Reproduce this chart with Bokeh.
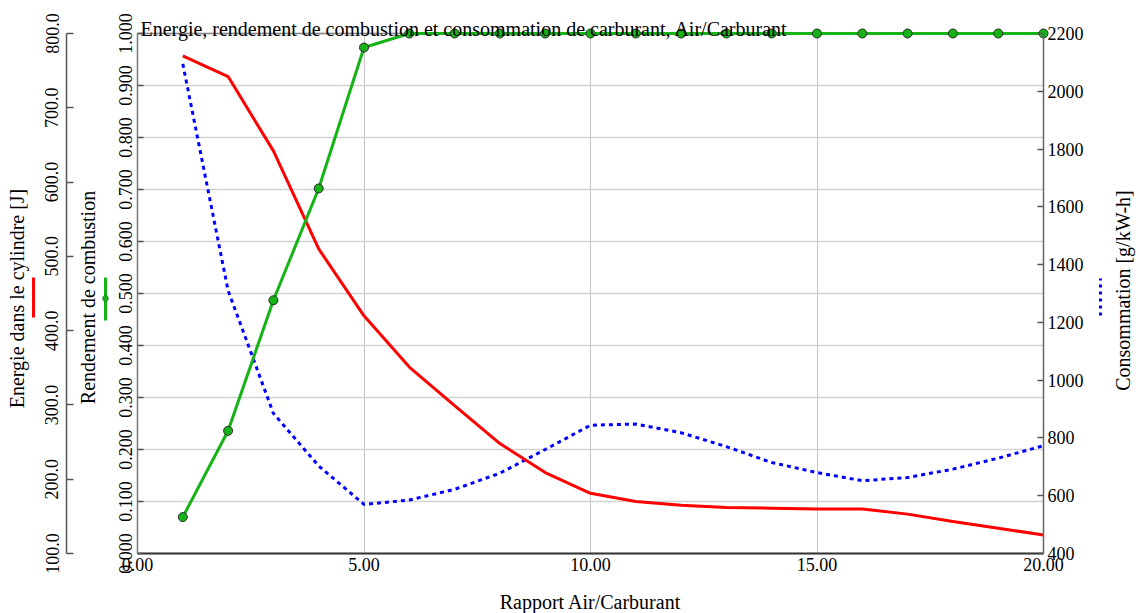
from math import pi

from bokeh.plotting import figure
from bokeh.models import (Range1d, LinearAxis, FixedTicker, NumeralTickFormatter,
                          Label, Arrow, BoxAnnotation, Grid)
from bokeh.embed import file_html
from bokeh.resources import INLINE

# ---- data -------------------------------------------------------------
ratio = [1, 2, 3, 4, 5, 6, 7, 8, 9, 10, 11, 12, 13, 14, 15, 16, 17, 18, 19, 20]
energie = [770, 742, 642, 510, 420, 351, 299, 248, 209, 181,
           170, 165, 162, 161, 160, 160, 153, 143, 134, 125]
rendement = [0.070, 0.236, 0.487, 0.702, 0.973, 1.000, 1.000, 1.000, 1.000, 1.000,
             1.000, 1.000, 1.000, 1.000, 1.000, 1.000, 1.000, 1.000, 1.000, 1.000]
consommation = [2095, 1310, 885, 703, 570, 585, 622, 678, 760, 844,
                848, 818, 770, 715, 680, 652, 663, 692, 730, 773]

x_ticks = [0, 5, 10, 15, 20]
rendement_ticks = [0.0, 0.1, 0.2, 0.3, 0.4, 0.5, 0.6, 0.7, 0.8, 0.9, 1.0]
energie_ticks = [100, 200, 300, 400, 500, 600, 700, 800]
conso_ticks = [400, 600, 800, 1000, 1200, 1400, 1600, 1800, 2000, 2200]

x_lim = (0, 20)
rendement_lim = (0.0, 1.0)
energie_lim = (100, 800)
conso_lim = (400, 2200)

TITLE = "Energie, rendement de combustion et consommation de carburant, Air/Carburant"
X_TITLE = "Rapport Air/Carburant"
E_TITLE = "Energie dans le cylindre [J]"
R_TITLE = "Rendement de combustion"
C_TITLE = "Consommation [g/kW-h]"

# ---- style ------------------------------------------------------------
FONT = "Liberation Serif"
TICK_SIZE = "18px"
LABEL_SIZE = "20px"
RED = "#ff0000"
GREEN = "#16b316"
BLUE = "#0000ff"

# ---- geometry ---------------------------------------------------------
# The frame fills the whole canvas; the axes sit at fixed locations so
# that the titles and the small legend keys beside them stay inside it.
W, H = 1140, 613
PA_LEFT, PA_RIGHT, PA_TOP, PA_BOTTOM = 137, 1043, 33, 553   # plot area, canvas px
ENERGY_AXIS_X = 66


def canvas_range(lo, hi, px_lo, px_hi, size):
    """Data range covering pixels 0..size when lo sits at px_lo and hi at px_hi."""
    k = (hi - lo) / (px_hi - px_lo)
    return Range1d(lo - px_lo * k, lo + (size - px_lo) * k)


def up(y_px):
    """Canvas row -> screen units measured up from the bottom."""
    return H - y_px


x_range = canvas_range(*x_lim, PA_LEFT, PA_RIGHT, W)
y_range = canvas_range(*rendement_lim, up(PA_BOTTOM), up(PA_TOP), H)
e_range = canvas_range(*energie_lim, up(PA_BOTTOM), up(PA_TOP), H)
c_range = canvas_range(*conso_lim, up(PA_BOTTOM), up(PA_TOP), H)
x_per_px = (x_lim[1] - x_lim[0]) / (PA_RIGHT - PA_LEFT)

p = figure(width=W, height=H, title=None, x_range=x_range, y_range=y_range,
           output_backend="svg", toolbar_location=None,
           min_border=0, min_border_left=0, min_border_right=0,
           min_border_top=0, min_border_bottom=0,
           background_fill_color="white", border_fill_color="white")
p.outline_line_color = None
p.extra_y_ranges = {"energie": e_range, "conso": c_range}


def style_axis(ax):
    ax.major_label_text_font = FONT
    ax.major_label_text_font_size = TICK_SIZE
    ax.major_label_text_color = "black"
    ax.axis_label_text_font = FONT
    ax.axis_label_text_font_size = LABEL_SIZE
    ax.axis_label_text_font_style = "normal"
    ax.axis_label_text_color = "black"
    ax.minor_tick_line_color = None
    ax.major_tick_line_color = "#555555"
    ax.major_tick_line_width = 1.5


# x axis
xa = p.xaxis[0]
xa.fixed_location = rendement_lim[0]
xa.bounds = x_lim
xa.ticker = FixedTicker(ticks=x_ticks)
xa.formatter = NumeralTickFormatter(format="0.00")
xa.major_tick_in = 0
xa.major_tick_out = 0
xa.major_label_standoff = 4
xa.axis_label = X_TITLE
xa.axis_label_standoff = 17
style_axis(xa)
xa.axis_line_color = "#333333"
xa.axis_line_width = 2

# efficiency axis along the left edge of the plot area
ya = p.yaxis[0]
ya.fixed_location = x_lim[0]
ya.bounds = rendement_lim
ya.ticker = FixedTicker(ticks=rendement_ticks)
ya.formatter = NumeralTickFormatter(format="0.000")
ya.major_label_orientation = "vertical"
ya.major_tick_in = 6
ya.major_tick_out = 0
ya.major_label_standoff = 6
style_axis(ya)
ya.axis_line_color = "#777777"
ya.axis_line_width = 1.5

# energy axis further out on the left
ea = LinearAxis(y_range_name="energie", ticker=FixedTicker(ticks=energie_ticks),
                formatter=NumeralTickFormatter(format="0.0"), bounds=energie_lim,
                fixed_location=x_lim[0] + (ENERGY_AXIS_X - PA_LEFT) * x_per_px)
ea.major_label_orientation = "vertical"
ea.major_tick_in = 7
ea.major_tick_out = 0
ea.major_label_standoff = 8
style_axis(ea)
ea.axis_line_color = "#555555"
ea.axis_line_width = 1.5
p.add_layout(ea, "left")

# consumption axis on the right edge
ca = LinearAxis(y_range_name="conso", ticker=FixedTicker(ticks=conso_ticks),
                formatter=NumeralTickFormatter(format="0"), bounds=conso_lim,
                fixed_location=x_lim[1])
ca.major_tick_in = 6
ca.major_tick_out = 0
ca.major_label_standoff = 4
style_axis(ca)
ca.axis_line_color = "#666666"
ca.axis_line_width = 1.5
p.add_layout(ca, "right")

# grid
p.ygrid.ticker = FixedTicker(ticks=rendement_ticks)
p.ygrid.bounds = rendement_lim
p.ygrid.cross_bounds = x_lim
p.ygrid.grid_line_color = "#d2d2d2"
p.ygrid.grid_line_width = 1.5
p.xgrid.ticker = FixedTicker(ticks=x_ticks)
p.xgrid.bounds = x_lim
p.xgrid.cross_bounds = rendement_lim
p.xgrid.grid_line_color = "#c4c4c4"
p.xgrid.grid_line_width = 1
# top border of the plot area
p.add_layout(Grid(dimension=1, ticker=FixedTicker(ticks=[rendement_lim[1]]),
                  cross_bounds=x_lim, grid_line_color="#888888", grid_line_width=1.5))

# series
p.line(ratio, consommation, y_range_name="conso", line_color=BLUE, line_width=3,
       line_dash="4 4")
p.line(ratio, energie, y_range_name="energie", line_color=RED, line_width=3)
p.line(ratio, rendement, line_color=GREEN, line_width=3)
p.scatter(ratio, rendement, size=9, fill_color=GREEN, line_color="#2a2a2a", line_width=1)

# title
p.add_layout(Label(x=x_lim[0], y=rendement_lim[1], x_offset=3, y_offset=5, text=TITLE,
                   text_font=FONT, text_font_size=LABEL_SIZE, text_color="black",
                   text_baseline="alphabetic", text_align="left"))


def vertical_title(text, anchor_x, center_y):
    p.add_layout(Label(x=anchor_x, y=up(center_y), x_units="screen", y_units="screen",
                       angle=pi / 2, text=text, text_font=FONT,
                       text_font_size=LABEL_SIZE, text_color="black",
                       text_align="center", text_baseline="alphabetic"))


vertical_title(E_TITLE, 16, 298)
vertical_title(R_TITLE, 87, 297)
vertical_title(C_TITLE, 1122, 290)


def key_line(x, y0, y1, color, dash="solid"):
    p.add_layout(Arrow(end=None, x_start=x, y_start=up(y1), x_end=x, y_end=up(y0),
                       start_units="screen", end_units="screen",
                       line_color=color, line_width=3, line_dash=dash))


# legend keys beside the axis titles
key_line(33, 277, 317, RED)
key_line(105, 277, 320, GREEN)
p.add_layout(BoxAnnotation(left=102, right=108, bottom=up(301), top=up(295),
                           left_units="screen", right_units="screen",
                           bottom_units="screen", top_units="screen",
                           border_radius=3, fill_color=GREEN, fill_alpha=1,
                           line_color="#2a2a2a", line_width=1))
key_line(1100, 278, 315, BLUE, "3 4")

open("out.html", "w").write(file_html(p, INLINE))
